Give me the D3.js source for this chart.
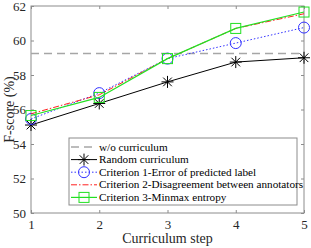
<!DOCTYPE html>
<html>
<head>
<meta charset="utf-8">
<script src="https://cdn.jsdelivr.net/npm/d3@7"></script>
<style>
  body { margin: 0; background: #fff; }
</style>
</head>
<body>
<svg id="chart"></svg>
<script>
const steps = [1, 2, 3, 4, 5]
const baseline = 59.25
const randomCurr = [55.1, 56.35, 57.6, 58.75, 59.0]
const crit1 = [55.45, 56.95, 58.95, 59.85, 60.75]
const crit2 = [55.75, 56.85, 58.95, 60.7, 61.55]
const crit3 = [55.65, 56.7, 58.95, 60.7, 61.65]
const yTicks = [50, 52, 54, 56, 58, 60, 62]
const legendLabels = [
  'w/o curriculum',
  'Random curriculum',
  'Criterion 1-Error of predicted label',
  'Criterion 2-Disagreement between annotators',
  'Criterion 3-Minmax entropy'
]

const FONT = '"Liberation Serif", "Times New Roman", "DejaVu Serif", serif'
const width = 311, height = 248
const margin = { left: 31, right: 7, top: 6, bottom: 35 }
const axisColor = '#8c8c8c'

const svg = d3.select('#chart').attr('width', width).attr('height', height)

const x = d3.scaleLinear().domain([1, 5]).range([margin.left, width - margin.right])
const y = d3.scaleLinear().domain([50, 62]).range([height - margin.bottom, margin.top])

// box + ticks (inside, matlab style)
const x0 = x.range()[0], x1 = x.range()[1], y0 = y.range()[0], y1 = y.range()[1]
const tickLen = 3

svg.append('g')
  .attr('transform', `translate(0, ${y0})`)
  .call(d3.axisBottom(x).tickValues(steps).tickFormat(d3.format('d')).tickSizeInner(-tickLen).tickSizeOuter(0).tickPadding(7))
  .call(g => g.select('.domain').remove())
svg.append('g')
  .attr('transform', `translate(0, ${y1})`)
  .call(d3.axisTop(x).tickValues(steps).tickFormat('').tickSizeInner(-tickLen).tickSizeOuter(0))
  .call(g => g.select('.domain').remove())
svg.append('g')
  .attr('transform', `translate(${x0}, 0)`)
  .call(d3.axisLeft(y).tickValues(yTicks).tickFormat(d3.format('d')).tickSizeInner(-tickLen).tickSizeOuter(0).tickPadding(5))
  .call(g => g.select('.domain').remove())
svg.append('g')
  .attr('transform', `translate(${x1}, 0)`)
  .call(d3.axisRight(y).tickValues(yTicks).tickFormat('').tickSizeInner(-tickLen).tickSizeOuter(0))
  .call(g => g.select('.domain').remove())

svg.selectAll('.tick line').attr('stroke', axisColor)
svg.selectAll('.tick text').attr('fill', '#262626')
  .style('font-family', FONT).style('font-size', '13px')

svg.append('rect')
  .attr('x', x0).attr('y', y1)
  .attr('width', x1 - x0).attr('height', y0 - y1)
  .attr('fill', 'none').attr('stroke', axisColor).attr('stroke-width', 1)

// axis titles
svg.append('text')
  .attr('x', (x0 + x1) / 2).attr('y', height - 5)
  .attr('text-anchor', 'middle').style('font-family', FONT).style('font-size', '14px').attr('fill', '#262626')
  .text('Curriculum step')
svg.append('text')
  .attr('transform', `translate(14, ${(y0 + y1) / 2}) rotate(-90)`)
  .attr('text-anchor', 'middle').style('font-family', FONT).style('font-size', '14px').attr('fill', '#262626')
  .text('F-score (%)')

// series
const line = d3.line().x((d, i) => x(steps[i])).y(d => y(d))

const series = [
  { data: steps.map(() => baseline), color: '#a6a6a6', dash: '8,5', width: 1.5, marker: null },
  { data: randomCurr, color: '#000000', dash: null, width: 1, marker: 'star' },
  { data: crit1, color: '#3333ff', dash: '1.5,2', width: 1, marker: 'circle' },
  { data: crit2, color: '#ff2020', dash: '6,2,1.5,2', width: 1, marker: null },
  { data: crit3, color: '#22e022', dash: null, width: 1.2, marker: 'square' }
]

const plot = svg.append('g')

function drawMarker(g, type, cx, cy, color) {
  if (type === 'star') {
    const r = 6
    const ss = g.append('g').attr('stroke', color).attr('stroke-width', 1)
    ss.append('line').attr('x1', cx - r).attr('x2', cx + r).attr('y1', cy).attr('y2', cy)
    ss.append('line').attr('x1', cx).attr('x2', cx).attr('y1', cy - r).attr('y2', cy + r)
    const d = r * 0.72
    ss.append('line').attr('x1', cx - d).attr('x2', cx + d).attr('y1', cy - d).attr('y2', cy + d)
    ss.append('line').attr('x1', cx - d).attr('x2', cx + d).attr('y1', cy + d).attr('y2', cy - d)
  } else if (type === 'circle') {
    g.append('circle').attr('cx', cx).attr('cy', cy).attr('r', 5.5)
      .attr('fill', 'none').attr('stroke', color).attr('stroke-width', 1)
  } else if (type === 'square') {
    g.append('rect').attr('x', cx - 5).attr('y', cy - 5).attr('width', 10).attr('height', 10)
      .attr('fill', 'none').attr('stroke', color).attr('stroke-width', 1)
  }
}

series.forEach(s => {
  plot.append('path')
    .datum(s.data)
    .attr('d', line)
    .attr('fill', 'none')
    .attr('stroke', s.color)
    .attr('stroke-width', s.width)
    .attr('stroke-dasharray', s.dash)
  if (s.marker) {
    s.data.forEach((v, i) => drawMarker(plot, s.marker, x(steps[i]), y(v), s.color))
  }
})

// legend
const lg = svg.append('g').attr('transform', 'translate(69, 138)')
lg.append('rect').attr('width', 228).attr('height', 67)
  .attr('fill', '#fff').attr('stroke', axisColor).attr('stroke-width', 1)
series.forEach((s, i) => {
  const ly = 9 + i * 12.6
  lg.append('line')
    .attr('x1', 2).attr('x2', 28).attr('y1', ly).attr('y2', ly)
    .attr('stroke', s.color).attr('stroke-width', s.width)
    .attr('stroke-dasharray', s.dash)
  if (s.marker) drawMarker(lg, s.marker, 15, ly, s.color)
  lg.append('text')
    .attr('x', 30).attr('y', ly + 3.5)
    .style('font-family', FONT).style('font-size', '11.2px').attr('fill', '#000')
    .text(legendLabels[i])
})
</script>
</body>
</html>
